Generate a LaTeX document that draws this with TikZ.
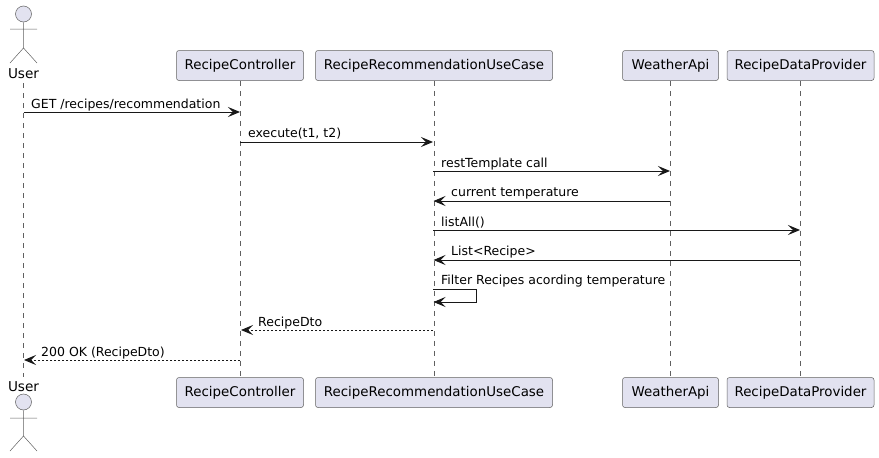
\documentclass[tikz,border=0pt]{standalone}
\usepackage{fontspec}
\setmainfont{DejaVu Sans}
\usetikzlibrary{arrows.meta}
\definecolor{boxfill}{HTML}{E2E2F0}
\definecolor{ink}{HTML}{181818}
\definecolor{thin}{HTML}{606060}
\tikzset{
  part/.style={draw=thin,fill=boxfill,line width=0.5pt,rounded corners=2.5pt,minimum height=30pt,inner sep=0pt,font=\fontsize{13.4}{15}\selectfont,text=black},
  life/.style={draw=thin,line width=0.5pt,dash pattern=on 5pt off 5pt},
  msg/.style={draw=ink,line width=1pt,-{Stealth[length=12pt,width=10pt,inset=5pt]}},
  reply/.style={msg,dash pattern=on 2pt off 2pt},
  lab/.style={anchor=base west,inner sep=0pt,font=\fontsize{12.5}{14}\selectfont,text=black},
  actorlab/.style={anchor=base,inner sep=0pt,font=\fontsize{13.6}{15}\selectfont,text=black},
  actorline/.style={draw=thin,line width=0.5pt},
  head/.style={circle,draw=thin,fill=boxfill,line width=0.5pt,minimum size=16pt,inner sep=0pt}
}
\begin{document}
\begin{tikzpicture}[x=1pt,y=-1pt]
\useasboundingbox (0,0) rectangle (879,458);
% top participants
\node[part,minimum width=127pt] (ct) at (240,65.5) {RecipeController};
\node[part,minimum width=237pt] (ut) at (434,65.5) {RecipeRecommendationUseCase};
\node[part,minimum width=96pt] (wt) at (670.5,65.5) {WeatherApi};
\node[part,minimum width=147pt] (pt) at (800.5,65.5) {RecipeDataProvider};
% bottom participants
\node[part,minimum width=127pt] (cb) at (240,392.5) {RecipeController};
\node[part,minimum width=237pt] (ub) at (434,392.5) {RecipeRecommendationUseCase};
\node[part,minimum width=96pt] (wb) at (670.5,392.5) {WeatherApi};
\node[part,minimum width=147pt] (pb) at (800.5,392.5) {RecipeDataProvider};
% actors
\node[actorlab] (al) at (23.5,78.5) {User};
\node[actorlab] (bl) at (23.5,391) {User};
\node[head] (ah) at (23.5,14) {};
\node[head] (bh) at (23.5,402) {};
\coordinate (at) at (23.5,83);
\coordinate (ab) at (23.5,377);
\draw[actorline] (ah.south) -- (23.5,48) -- (10,63) (23.5,48) -- (37,63) (10,29) -- (37,29);
\draw[actorline] (bh.south) -- (23.5,436) -- (10,451) (23.5,436) -- (37,451) (10,418) -- (37,418);
% lifelines
\draw[life] (at) -- (ab);
\draw[life] (ct) -- (cb);
\draw[life] (ut) -- (ub);
\draw[life] (wt) -- (wb);
\draw[life] (pt) -- (pb);
% message endpoints
\foreach \n/\x/\y in {a/23.5/112,b/240/112,c/240/142,d/433/142,e/433/171,f/670/171,g/670/201,h/433.5/201,i/433/230,j/800/230,k/800/260,l/433.5/260,m/433/289,n/433.5/302,o/433/330,p/241/330,q/240/360,r/24/360}
  \coordinate (\n) at (\x,\y);
\coordinate (m1) at (476,289);
\coordinate (m2) at (476,302);
% messages
\draw[msg] (a) -- (b);
\draw[msg] (c) -- (d);
\draw[msg] (e) -- (f);
\draw[msg] (g) -- (h);
\draw[msg] (i) -- (j);
\draw[msg] (k) -- (l);
\draw[msg] (m) -- (m1) -- (m2) -- (n);
\draw[reply] (o) -- (p);
\draw[reply] (q) -- (r);
% labels
\node[lab] (t1) at (31,108) {GET /recipes/recommendation};
\node[lab] (t2) at (248,137) {execute(t1, t2)};
\node[lab] (t3) at (441,167) {restTemplate call};
\node[lab] (t4) at (451,196) {current temperature};
\node[lab] (t5) at (441,226) {listAll()};
\node[lab] (t6) at (451,255) {List<Recipe>};
\node[lab] (t7) at (441,284) {Filter Recipes acording temperature};
\node[lab] (t8) at (258,326) {RecipeDto};
\node[lab] (t9) at (41,356) {200 OK (RecipeDto)};
\end{tikzpicture}
\end{document}
